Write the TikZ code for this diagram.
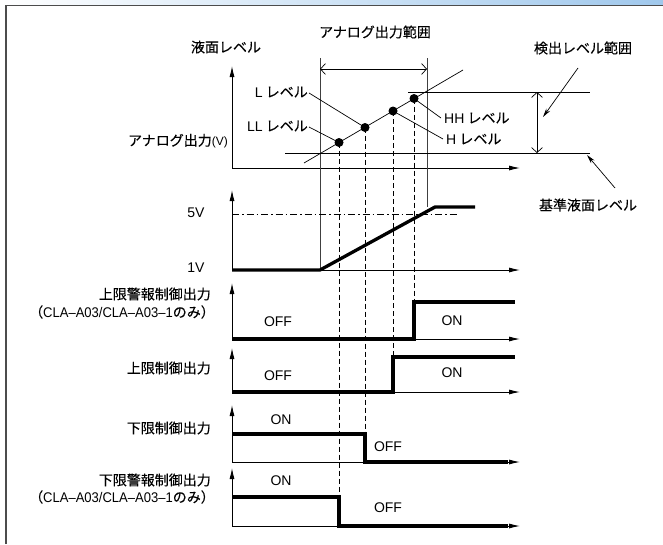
\documentclass[tikz,border=0pt]{standalone}
\usepackage{fontspec}
\setmainfont[FakeBold=0.12,AutoFakeBold=0.12]{Noto Sans CJK JP}
\newfontfamily\lat{Liberation Sans}
\newfontfamily\latn[FakeStretch=0.93]{Liberation Sans}
\usetikzlibrary{arrows.meta}
\begin{document}
\begin{tikzpicture}[x=1pt,y=-1pt,
  axis/.style={line width=0.9pt,-{Latex[length=11pt,width=5pt]}},
  rng/.style={line width=0.7pt,{Straight Barb[length=5pt,width=11pt]}-{Straight Barb[length=5pt,width=11pt]}},
  ptr/.style={line width=0.7pt,-{Stealth[length=9pt,width=4.5pt]}},
  thinline/.style={line width=0.7pt},
  grayline/.style={line width=0.9pt,draw=black!75},
  sig/.style={line width=3.3pt,line join=miter},
  guide/.style={line width=0.9pt,dash pattern=on 5pt off 3pt},
  dashdot/.style={line width=0.7pt,dash pattern=on 7pt off 3pt on 1.5pt off 3pt},
  jp/.style={font=\fontsize{14}{16}\selectfont, inner sep=0pt},
  la/.style={font=\lat\fontsize{14}{16}\selectfont, inner sep=0pt},
  dotnode/.style={circle,fill=black,inner sep=0pt,minimum size=9pt},
]
\useasboundingbox (0,0) rectangle (663,544);
% banner and frame
\shade[left color=white, right color={rgb,255:red,160;green,200;blue,236}] (0,0) rectangle (663,5);
\coordinate (f1) at (6,544);
\coordinate (f2) at (6,5.5);
\coordinate (f3) at (663,5.5);
\draw[line width=1.4pt,draw=black!70] (f1) -- (f2) -- (f3);

% ---------- chart 1 : level ----------
\coordinate (o1) at (232,168);
\coordinate (y1) at (232,66);
\coordinate (x1) at (520,168);
\draw[axis] (o1) -- (y1);
\draw[axis] (o1) -- (x1);
\node[jp] (tlevel) at (226,47) {液面レベル};
\node[jp, anchor=east] (tanalog) at (228,141) {アナログ出力{\lat\fontsize{12}{14}\selectfont(V)}};
\node[jp] (trange) at (375,32) {アナログ出力範囲};
\node[jp] (tdet) at (583,48) {検出レベル範囲};
\node[jp] (tbase) at (588,205) {基準液面レベル};

% range verticals
\coordinate (va1) at (320,58);
\coordinate (va2) at (320,270);
\coordinate (vb1) at (427,58);
\coordinate (vb2) at (427,207);
\draw[grayline] (va1) -- (va2);
\draw[grayline] (vb1) -- (vb2);
\coordinate (ra) at (320,69);
\coordinate (rb) at (427,69);
\draw[rng] (ra) -- (rb);

% level line and dots
\coordinate (rs) at (304,163);
\coordinate (re) at (463,70);
\draw[thinline] (rs) -- (re);
\node[dotnode] (dll) at (339,142.5) {};
\node[dotnode] (dl) at (365,127.5) {};
\node[dotnode] (dh) at (393,111) {};
\node[dotnode] (dhh) at (414,98.5) {};

\node[jp, anchor=east] (lbl) at (308,92) {{\lat L}\ レベル};
\node[jp, anchor=east] (llbl) at (308,126) {{\lat LL}\ レベル};
\node[jp, anchor=west] (hhlbl) at (444,118) {{\lat HH}\ レベル};
\node[jp, anchor=west] (hlbl) at (446,139) {{\lat H}\ レベル};
\draw[thinline] (lbl.east) ++(1,1) -- (dl.center);
\draw[thinline] (llbl.east) ++(1,1) -- (dll.center);
\draw[thinline] (dhh.center) -- ([xshift=-3pt]hhlbl.west);
\draw[thinline] (dh.center) -- ([xshift=-3pt]hlbl.west);

% detection levels
\coordinate (hlA) at (408,92);
\coordinate (hlB) at (590,92);
\coordinate (blA) at (285,153);
\coordinate (blB) at (590,153);
\draw[thinline] (hlA) -- (hlB);
\draw[thinline] (blA) -- (blB);
\coordinate (da) at (537,92);
\coordinate (db) at (537,153);
\draw[rng] (da) -- (db);
\coordinate (p1a) at (578,68);
\coordinate (p1b) at (543,117);
\draw[ptr] (p1a) -- (p1b);
\coordinate (p2a) at (615,188);
\coordinate (p2b) at (587,155);
\draw[ptr] (p2a) -- (p2b);

% ---------- chart 2 : analog output ----------
\coordinate (o2) at (232,270);
\coordinate (y2) at (232,190);
\coordinate (x2) at (520,270);
\draw[axis] (o2) -- (y2);
\draw[axis] (o2) -- (x2);
\coordinate (v5a) at (232,214);
\coordinate (v5b) at (458,214);
\draw[dashdot] (v5a) -- (v5b);
\node[la] (t5v) at (196,213) {5V};
\node[la] (t1v) at (196,268) {1V};
\coordinate (s2a) at (232,270);
\coordinate (s2b) at (320,270);
\coordinate (s2c) at (435,207);
\coordinate (s2d) at (475,207);
\draw[sig] (s2a) -- (s2b) -- (s2c) -- (s2d);

% ---------- chart 3 : upper alarm ----------
\coordinate (o3) at (232,339);
\coordinate (y3) at (232,283);
\coordinate (x3) at (520,339);
\draw[axis] (o3) -- (y3);
\draw[axis] (o3) -- (x3);
\node[jp, anchor=east] (t3a) at (211,294) {上限警報制御出力};
\node[jp, anchor=east] (t3b) at (215,312) {（{\latn CLA–A03/CLA–A03–1}のみ）};
\node[la] (t3off) at (278,322) {OFF};
\node[la] (t3on) at (452,321) {ON};
\coordinate (s3a) at (232,339);
\coordinate (s3b) at (414,339);
\coordinate (s3c) at (414,302);
\coordinate (s3d) at (515,302);
\draw[sig] (s3a) -- (s3b) -- (s3c) -- (s3d);

% ---------- chart 4 : upper ----------
\coordinate (o4) at (232,392);
\coordinate (y4) at (232,348);
\coordinate (x4) at (520,392);
\draw[axis] (o4) -- (y4);
\draw[axis] (o4) -- (x4);
\node[jp, anchor=east] (t4a) at (211,368) {上限制御出力};
\node[la] (t4off) at (278,376) {OFF};
\node[la] (t4on) at (452,373) {ON};
\coordinate (s4a) at (232,392);
\coordinate (s4b) at (393,392);
\coordinate (s4c) at (393,357);
\coordinate (s4d) at (515,357);
\draw[sig] (s4a) -- (s4b) -- (s4c) -- (s4d);

% ---------- chart 5 : lower ----------
\coordinate (o5) at (232,462);
\coordinate (y5) at (232,405);
\coordinate (x5) at (520,462);
\draw[axis] (o5) -- (y5);
\draw[axis] (o5) -- (x5);
\node[jp, anchor=east] (t5a) at (211,428) {下限制御出力};
\node[la] (t5on) at (281,420) {ON};
\node[la] (t5off) at (388,447) {OFF};
\coordinate (s5a) at (232,434);
\coordinate (s5b) at (365,434);
\coordinate (s5c) at (365,462);
\coordinate (s5d) at (508,462);
\draw[sig] (s5a) -- (s5b) -- (s5c) -- (s5d);

% ---------- chart 6 : lower alarm ----------
\coordinate (o6) at (232,526);
\coordinate (y6) at (232,468);
\coordinate (x6) at (520,526);
\draw[axis] (o6) -- (y6);
\draw[axis] (o6) -- (x6);
\node[jp, anchor=east] (t6a) at (211,480) {下限警報制御出力};
\node[jp, anchor=east] (t6b) at (215,497) {（{\latn CLA–A03/CLA–A03–1}のみ）};
\node[la] (t6on) at (281,481) {ON};
\node[la] (t6off) at (388,508) {OFF};
\coordinate (s6a) at (232,497);
\coordinate (s6b) at (339,497);
\coordinate (s6c) at (339,526);
\coordinate (s6d) at (508,526);
\draw[sig] (s6a) -- (s6b) -- (s6c) -- (s6d);

% ---------- guides ----------
\coordinate (g1) at (339,497);
\coordinate (g2) at (365,434);
\coordinate (g3) at (393,357);
\coordinate (g4) at (414,302);
\draw[guide] (dll.center) -- (g1);
\draw[guide] (dl.center) -- (g2);
\draw[guide] (dh.center) -- (g3);
\draw[guide] (dhh.center) -- (g4);
\end{tikzpicture}
\end{document}
